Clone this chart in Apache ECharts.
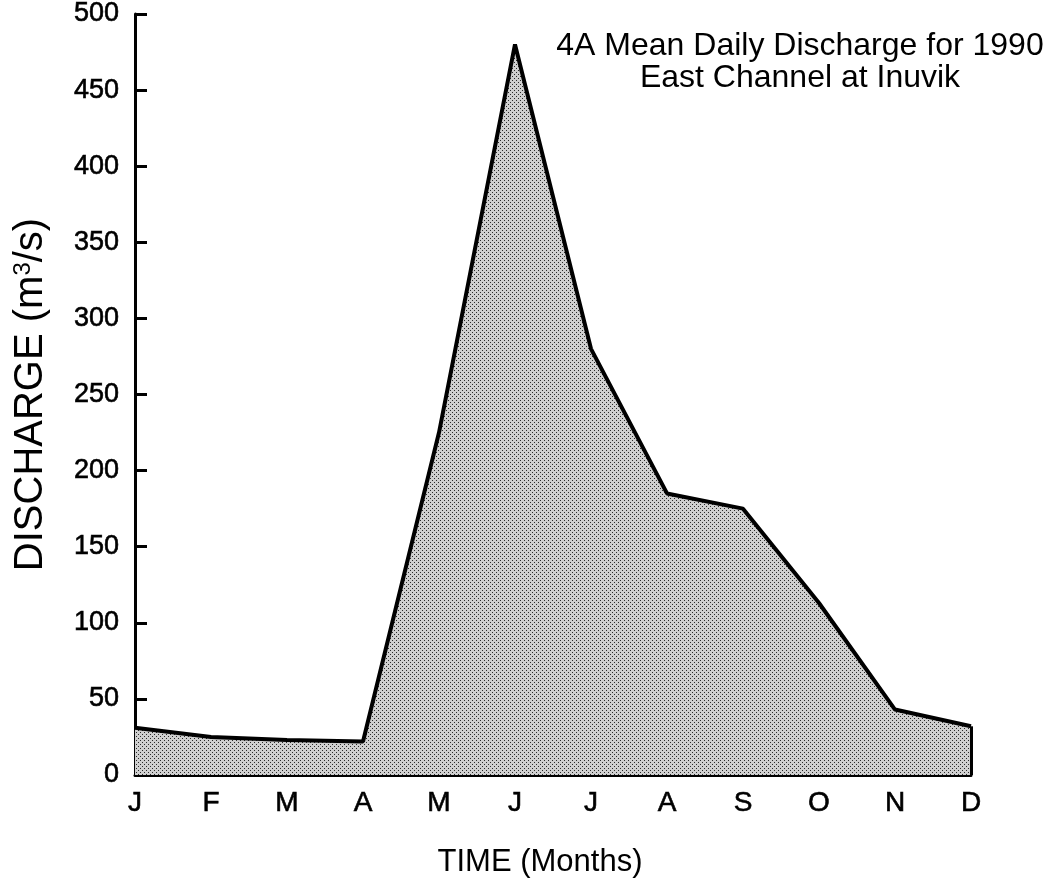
<!DOCTYPE html>
<html>
<head>
<meta charset="utf-8">
<script src="https://cdn.jsdelivr.net/npm/echarts@6/dist/echarts.min.js"></script>
<style>
html,body{margin:0;padding:0;background:#fff;}
#chart{width:1060px;height:883px;}
</style>
</head>
<body>
<div id="chart"></div>
<script>
// Data
const months = ['J','F','M','A','M','J','J','A','S','O','N','D'];
const discharge = [31, 25, 23, 22, 225, 480, 280, 185, 175, 113, 43, 32];
const yTicks = [0, 50, 100, 150, 200, 250, 300, 350, 400, 450, 500];
const titleLines = ['4A Mean Daily Discharge for 1990', 'East Channel at Inuvik'];
const xName = 'TIME (Months)';

// halftone dotted fill
const pc = document.createElement('canvas');
pc.width = 4; pc.height = 4;
const pctx = pc.getContext('2d');
pctx.fillStyle = '#cfcfcf';
pctx.fillRect(0,0,4,4);
pctx.fillStyle = '#2a2a2a';
pctx.fillRect(0,0,1,1);
pctx.fillRect(2,2,1,1);

const FONT = '"Liberation Sans", Arial, Helvetica, sans-serif';
const heavy = {textBorderColor: '#000', textBorderWidth: 0.6};
const chart = echarts.init(document.getElementById('chart'), null, {renderer:'canvas'});
const lastIdx = months.length - 1;
chart.setOption({
  animation: false,
  backgroundColor: '#fff',
  textStyle: {fontFamily: FONT, color: '#000'},
  grid: {left: 135, right: 89, top: 14, bottom: 107},
  graphic: [{
    type: 'text',
    x: 800, y: 30,
    style: {
      text: titleLines.join('\n'),
      fontFamily: FONT, fontSize: 32, lineHeight: 32,
      fill: '#000', align: 'center', verticalAlign: 'top'
    }
  }],
  xAxis: {
    type: 'category',
    data: months,
    boundaryGap: false,
    name: xName,
    nameLocation: 'middle',
    nameGap: 72,
    nameTextStyle: {fontFamily: FONT, fontSize: 31, color: '#000', padding: [0, 26, 0, 0]},
    axisLine: {lineStyle: {color: '#000', width: 3}},
    axisTick: {inside: true, length: 12, lineStyle: {color: '#000', width: 3}},
    axisLabel: Object.assign({fontFamily: FONT, fontSize: 28, color: '#000', margin: 14}, heavy),
    splitLine: {show: false}
  },
  yAxis: {
    type: 'value',
    min: yTicks[0], max: yTicks[yTicks.length-1], interval: yTicks[1]-yTicks[0],
    name: 'DISCHARGE (m{sup|3}/s)',
    nameLocation: 'middle',
    nameRotate: 90,
    nameGap: 84,
    nameTextStyle: {fontFamily: FONT, fontSize: 40, color: '#000',
      rich: {sup: {fontFamily: FONT, fontSize: 24, color: '#000', verticalAlign: 'top', padding: [0,0,16,0]}}},
    axisLine: {show: true, lineStyle: {color: '#000', width: 3}},
    axisTick: {show: true, inside: true, length: 12, lineStyle: {color: '#000', width: 3}},
    axisLabel: Object.assign({fontFamily: FONT, fontSize: 27, color: '#000', margin: 16}, heavy),
    splitLine: {show: false}
  },
  series: [{
    type: 'line',
    data: discharge,
    symbol: 'none',
    z: 1,
    lineStyle: {color: '#000', width: 4},
    areaStyle: {color: {image: pc, repeat: 'repeat'}, opacity: 1},
    markLine: {
      silent: true, symbol: 'none', label: {show: false},
      lineStyle: {color: '#000', width: 3, type: 'solid'},
      data: [[{coord: [lastIdx, 0]}, {coord: [lastIdx, discharge[lastIdx]]}]]
    }
  }]
});
</script>
</body>
</html>
